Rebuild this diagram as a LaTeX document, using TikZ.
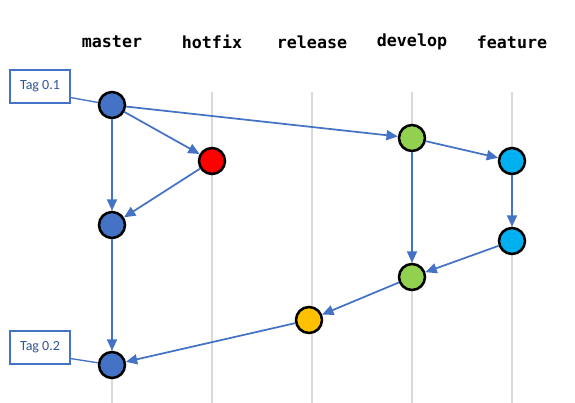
\documentclass[tikz,border=0pt]{standalone}
\usepackage{fontspec}
\usepackage{tikz}
\usetikzlibrary{arrows.meta}
\newfontfamily\branchfont{DejaVu Sans Mono}
\newfontfamily\tagfont{Carlito}
\definecolor{flow}{HTML}{4472C4}
\definecolor{lane}{HTML}{D9D9D9}
\definecolor{masterc}{HTML}{4472C4}
\definecolor{hotfixc}{HTML}{FF0000}
\definecolor{releasec}{HTML}{FFC000}
\definecolor{developc}{HTML}{92D050}
\definecolor{featurec}{HTML}{00B0F0}
\definecolor{tagtext}{HTML}{2F5597}

\begin{document}
\begin{tikzpicture}[x=0.75pt,y=-0.75pt,
  commit/.style={circle,draw=black,line width=1.9pt,minimum size=19.5pt,inner sep=0pt},
  branch/.style={font=\branchfont\bfseries\fontsize{12.5}{14}\selectfont},
  tagbox/.style={draw=flow,line width=0.8pt,fill=white,minimum width=45pt,minimum height=24.75pt,
    font=\tagfont\fontsize{10.5}{12}\selectfont,text=tagtext},
  edge/.style={flow,line width=1.3pt,-{Triangle[length=8.5pt,width=7.5pt]}}]
  \useasboundingbox (0,0) rectangle (575,403);

  % lanes and their names
  \foreach \x/\name in {112/master,212/hotfix,312/release,412/develop,512/feature} {
    \draw[lane,line width=1.5pt] (\x,92) -- (\x,403);
    \node[branch] (lbl-\name) at (\x,42) {\name};
  }

  % commits
  \node[commit,fill=masterc] (m1) at (112,105) {};
  \node[commit,fill=hotfixc] (h1) at (212,161) {};
  \node[commit,fill=masterc] (m2) at (112,225) {};
  \node[commit,fill=developc] (d1) at (412,138) {};
  \node[commit,fill=featurec] (f1) at (512,161) {};
  \node[commit,fill=featurec] (f2) at (512,241) {};
  \node[commit,fill=developc] (d2) at (412,277) {};
  \node[commit,fill=releasec] (r1) at (309,320) {};
  \node[commit,fill=masterc] (m3) at (112,365) {};

  % tags
  \node[tagbox] (tag1) at (40,86.5) {Tag 0.1};
  \node[tagbox] (tag2) at (40,347.5) {Tag 0.2};
  \draw[flow,line width=1pt] (tag1.south east) ++(0,4.5pt) coordinate (t1) (t1) -- (m1);
  \draw[flow,line width=1pt] (tag2.south east) ++(0,4.5pt) coordinate (t2) (t2) -- (m3);

  % merges and branches
  \draw[edge] (m1) -- (h1);
  \draw[edge] (m1) -- (d1);
  \draw[edge] (m1) -- (m2);
  \draw[edge] (h1) -- (m2);
  \draw[edge] (m2) -- (m3);
  \draw[edge] (d1) -- (f1);
  \draw[edge] (d1) -- (d2);
  \draw[edge] (f1) -- (f2);
  \draw[edge] (f2) -- (d2);
  \draw[edge] (d2) -- (r1);
  \draw[edge] (r1) -- (m3);
\end{tikzpicture}
\end{document}
